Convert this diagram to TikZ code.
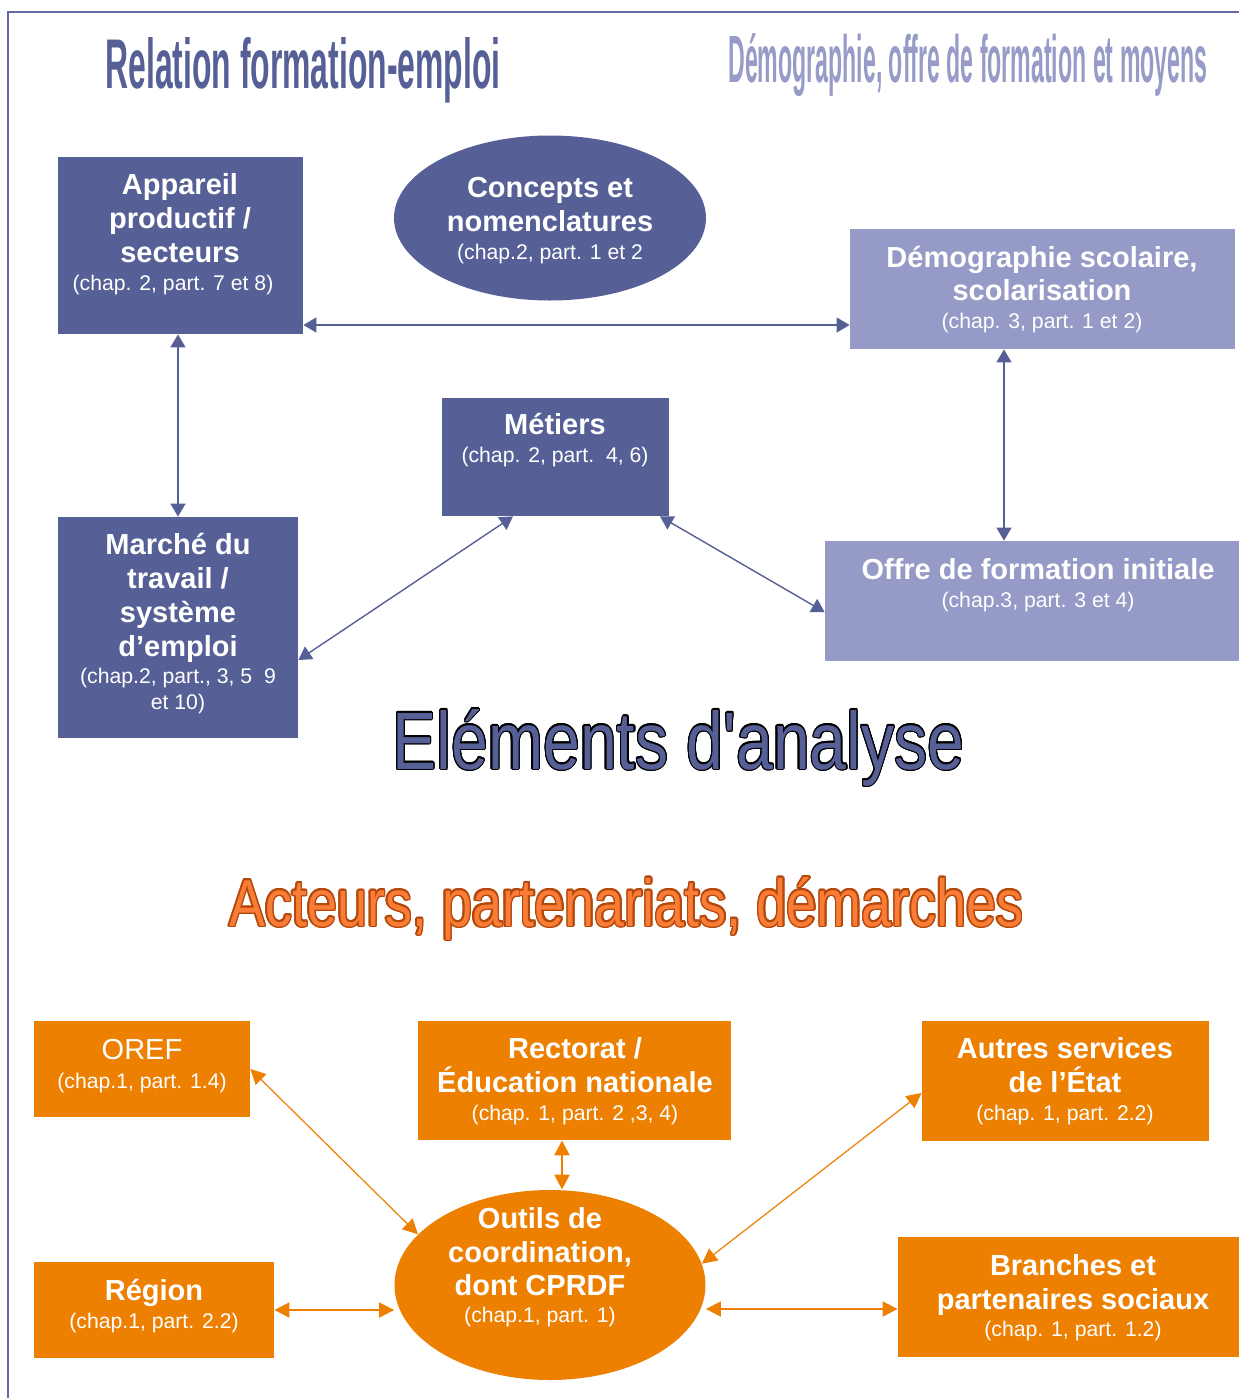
\documentclass[tikz,border=0pt]{standalone}
\usepackage{fontspec}
\setmainfont{Liberation Sans}
\newfontfamily\plainsans[Ligatures=TeXOff]{Liberation Sans}
\usepackage{graphicx}
\usetikzlibrary{arrows.meta,shapes.geometric,fit}
\definecolor{dblue}{RGB}{86,96,150}
\definecolor{lblue}{RGB}{149,155,198}
\definecolor{ttlblue}{RGB}{150,155,200}
\definecolor{orng}{RGB}{237,128,0}
\definecolor{framecol}{RGB}{100,106,165}
\definecolor{actfill}{RGB}{250,125,55}
\definecolor{actline}{RGB}{180,72,10}
\tikzset{
 boxn/.style={inner sep=0pt, draw=none},
 bigt/.style={text=white, font=\fontsize{14.5}{17}\selectfont\bfseries, anchor=base, inner sep=0pt},
 smallt/.style={text=white, font=\fontsize{10.6}{13}\selectfont, anchor=base, inner sep=0pt},
 barrow/.style={draw=dblue, line width=0.7pt, {Triangle[length=6.5pt,width=7.5pt]}-{Triangle[length=6.5pt,width=7.5pt]}},
 oarrow/.style={draw=orng, line width=0.6pt, {Triangle[length=7.5pt,width=7.5pt]}-{Triangle[length=7.5pt,width=7.5pt]}},
}
\newcommand\outlinetext[6]{%
 \foreach \ang in {0,22.5,...,337.5}
   \node[anchor=base west, inner sep=0pt, text=#4] at ([shift={(\ang:#6)}]#2) {#5};
 \node[anchor=base west, inner sep=0pt, text=#3] (#1) at (#2) {#5};}
\begin{document}
\begin{tikzpicture}[x=0.5pt,y=-0.5pt]
\useasboundingbox (0,0) rectangle (1239,1398);
\fill[white] (0,0) rectangle (1239,1398);
\draw[framecol, line width=1pt] (8,1398) -- (8,12) -- (1239,12);

% titles
\node[anchor=base west, inner sep=0pt, text=dblue] (title1) at (105,88)
  {\resizebox{197.5pt}{25.5pt}{\bfseries Relation formation-emploi}};
\node[anchor=base west, inner sep=0pt, text=ttlblue] (title2) at (728,82)
  {\resizebox{239.5pt}{24.5pt}{\bfseries Démographie, offre de formation et moyens}};
\outlinetext{title3}{392,769}{dblue}{black}{\resizebox{286pt}{30pt}{\plainsans Eléments d'analyse}}{0.6pt}
\outlinetext{title4}{229,926}{actfill}{actline}{\resizebox{397pt}{24.5pt}{Acteurs, partenariats, démarches}}{0.75pt}

% blue boxes
\node[boxn, fill=dblue, fit={(58,157)(303,334)}] (app) {};
\node[ellipse, fill=dblue, minimum width=156pt, minimum height=82.5pt, inner sep=0pt] (conc) at (550,218) {};
\node[boxn, fill=lblue, fit={(850,229)(1235,349)}] (demo) {};
\node[boxn, fill=dblue, fit={(442,398)(669,516)}] (metiers) {};
\node[boxn, fill=dblue, fit={(58,517)(298,738)}] (marche) {};
\node[boxn, fill=lblue, fit={(825,541)(1239,661)}] (offre) {};

\node[bigt] (app1) at (180,194) {Appareil};
\node[bigt] (app2) at (180,228) {productif /};
\node[bigt] (app3) at (180,262) {secteurs};
\node[smallt] (app4) at (173,290) {(chap. 2, part. 7 et 8)};

\node[bigt] (conc1) at (550,197) {Concepts et};
\node[bigt] (conc2) at (550,231) {nomenclatures};
\node[smallt] (conc3) at (550,259) {(chap.2, part. 1 et 2};

\node[bigt] (demo1) at (1042,267) {Démographie scolaire,};
\node[bigt] (demo2) at (1042,300) {scolarisation};
\node[smallt] (demo3) at (1042,328) {(chap. 3, part. 1 et 2)};

\node[bigt] (met1) at (555,434) {Métiers};
\node[smallt] (met2) at (555,462) {(chap. 2, part.\ \ 4, 6)};

\node[bigt] (mar1) at (178,554) {Marché du};
\node[bigt] (mar2) at (178,588) {travail /};
\node[bigt] (mar3) at (178,622) {système};
\node[bigt] (mar4) at (178,656) {d’emploi};
\node[smallt] (mar5) at (178,683) {(chap.2, part., 3, 5\ \ 9};
\node[smallt] (mar6) at (178,709) {et 10)};

\node[bigt] (off1) at (1038,579) {Offre de formation initiale};
\node[smallt] (off2) at (1038,607) {(chap.3, part. 3 et 4)};

% blue arrows
\draw[barrow] (app.east |- 0,325) -- (demo.west |- 0,325);
\draw[barrow] (app.south -| marche.north) -- (marche.north);
\draw[barrow] (demo.south -| 1004,0) -- (offre.north -| 1004,0);
\draw[barrow] (metiers.south -| 513,0) -- (marche.east |- 0,660);
\draw[barrow] (metiers.south -| 660,0) -- (offre.west |- 0,612);

% orange boxes
\node[boxn, fill=orng, fit={(34,1021)(250,1117)}] (oref) {};
\node[boxn, fill=orng, fit={(418,1021)(731,1140)}] (rect) {};
\node[boxn, fill=orng, fit={(922,1021)(1209,1141)}] (autres) {};
\node[ellipse, fill=orng, minimum width=155.5pt, minimum height=95pt, inner sep=0pt] (outils) at (550,1285) {};
\node[boxn, fill=orng, fit={(34,1262)(274,1358)}] (region) {};
\node[boxn, fill=orng, fit={(898,1237)(1239,1357)}] (branches) {};

\node[bigt, font=\fontsize{14.5}{17}\selectfont] (oref1) at (142,1059) {OREF};
\node[smallt] (oref2) at (142,1088) {(chap.1, part. 1.4)};

\node[bigt] (rect1) at (575,1058) {Rectorat /};
\node[bigt] (rect2) at (575,1092) {Éducation nationale};
\node[smallt] (rect3) at (575,1120) {(chap. 1, part. 2 ,3, 4)};

\node[bigt] (aut1) at (1065,1058) {Autres services};
\node[bigt] (aut2) at (1065,1092) {de l’État};
\node[smallt] (aut3) at (1065,1120) {(chap. 1, part. 2.2)};

\node[bigt] (out1) at (540,1228) {Outils de};
\node[bigt] (out2) at (540,1262) {coordination,};
\node[bigt] (out3) at (540,1295) {dont CPRDF};
\node[smallt] (out4) at (540,1322) {(chap.1, part. 1)};

\node[bigt] (reg1) at (154,1300) {Région};
\node[smallt] (reg2) at (154,1328) {(chap.1, part. 2.2)};

\node[bigt] (br1) at (1073,1275) {Branches et};
\node[bigt] (br2) at (1073,1309) {partenaires sociaux};
\node[smallt] (br3) at (1073,1336) {(chap. 1, part. 1.2)};

% orange arrows
\draw[oarrow] (oref.east) -- (outils.159.6);
\draw[oarrow, line width=1.2pt] (rect.south -| 562,0) -- (outils.north -| 562,0);
\draw[oarrow] (autres.west |- 0,1093) -- (outils.8.3);
\draw[oarrow, line width=0.9pt] (region.east) -- (region.east -| outils.west);
\draw[oarrow, line width=0.9pt] (outils.east |- 0,1309) -- (branches.west |- 0,1309);
\end{tikzpicture}
\end{document}
